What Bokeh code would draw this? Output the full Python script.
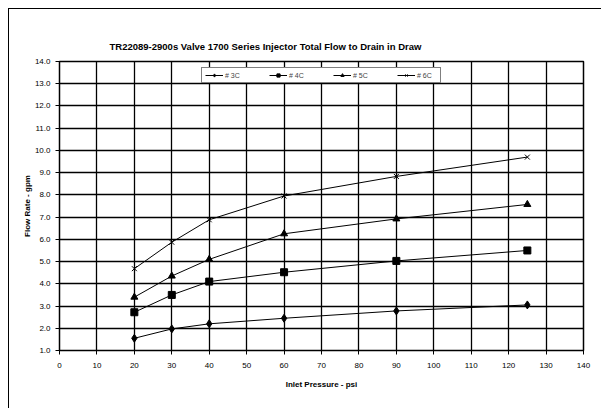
from bokeh.plotting import figure
from bokeh.models import Range1d, Legend, LegendItem, FixedTicker, NumeralTickFormatter, Title
from bokeh.embed import file_html
from bokeh.resources import INLINE

pressure = [20, 30, 40, 60, 90, 125]
flow_3c = [1.55, 1.97, 2.20, 2.45, 2.78, 3.05]
flow_4c = [2.72, 3.50, 4.10, 4.52, 5.03, 5.50]
flow_5c = [3.40, 4.35, 5.10, 6.25, 6.92, 7.57]
flow_6c = [4.68, 5.87, 6.88, 7.95, 8.83, 9.70]
series_names = ["# 3C", "# 4C", "# 5C", "# 6C"]
x_ticks = list(range(0, 141, 10))
y_ticks = [1.0 + i for i in range(14)]

FONT = "Liberation Sans"

p = figure(width=593, height=400, output_backend="svg", toolbar_location=None,
           x_range=Range1d(0, 140), y_range=Range1d(1, 14),
           min_border_left=50, min_border_right=19, min_border_top=52, min_border_bottom=59)
p.title = None
p.styles = {"margin-left": "8px", "margin-top": "8px",
            "border-left": "1px solid black", "border-top": "1px solid black"}
p.background_fill_color = "white"
p.outline_line_color = "black"
p.outline_line_width = 1.5

p.xaxis.ticker = FixedTicker(ticks=x_ticks)
p.yaxis.ticker = FixedTicker(ticks=y_ticks)
p.yaxis.formatter = NumeralTickFormatter(format="0.0")
for ax in (p.xaxis, p.yaxis):
    ax.major_label_text_font = FONT
    ax.major_label_text_font_size = "8px"
    ax.major_label_text_color = "black"
    ax.axis_label_text_font = FONT
    ax.axis_label_text_font_size = "8px"
    ax.axis_label_text_font_style = "bold"
    ax.axis_label_text_color = "black"
    ax.axis_line_color = "black"
    ax.major_tick_line_color = "black"
    ax.major_tick_out = 4
    ax.major_tick_in = 0
    ax.minor_tick_line_color = None
p.xaxis.axis_label = "Inlet Pressure - psi"
p.yaxis.axis_label = "Flow Rate - gpm"
p.xaxis.major_label_standoff = 8
p.xaxis.axis_label_standoff = 9
p.yaxis.major_label_standoff = 5
p.yaxis.axis_label_standoff = 0

p.xgrid.grid_line_color = "black"
p.ygrid.grid_line_color = "black"
p.xgrid.grid_line_width = 1.3
p.ygrid.grid_line_width = 1.3

title = Title(text="TR22089-2900s Valve 1700 Series Injector Total Flow to Drain in Draw",
              align="left", offset=50, standoff=20,
              text_font=FONT, text_font_size="9.5px", text_font_style="bold", text_color="black")
p.add_layout(title, "above")

series = [flow_3c, flow_4c, flow_5c, flow_6c]
markers = ["diamond", "square", "triangle", "x"]
sizes = [8, 7, 7, 7]
items = []
for name, ys, m, s in zip(series_names, series, markers, sizes):
    l = p.line(pressure, ys, line_color="black", line_width=1)
    sc = p.scatter(pressure, ys, marker=m, size=s, fill_color="black", line_color="black", line_width=1)
    items.append(LegendItem(label=name, renderers=[l, sc]))

legend = Legend(items=items, orientation="horizontal", location="top_center",
                label_text_font=FONT, label_text_font_size="7px",
                glyph_width=18, glyph_height=8, label_standoff=2, spacing=24,
                padding=3, margin=6, border_line_color="black", border_line_width=1.5,
                background_fill_color="white", background_fill_alpha=1.0,
                label_height=8)
p.add_layout(legend, "center")

open("out.html", "w").write(file_html(p, INLINE))
